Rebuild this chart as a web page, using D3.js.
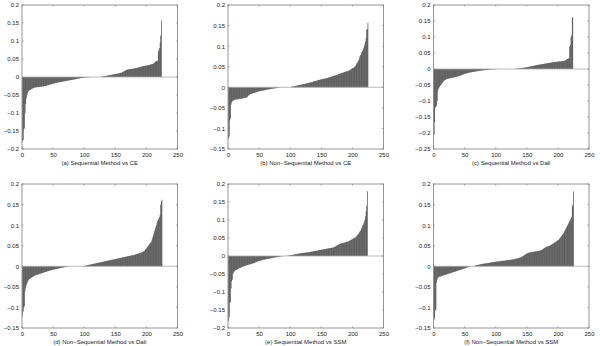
<!DOCTYPE html>
<html>
<head>
<meta charset="utf-8">
<script src="https://cdn.jsdelivr.net/npm/d3@7"></script>
<style>
  body { margin: 0; background: #fff; }
  text { font-family: "Liberation Sans", Arial, sans-serif; fill: #222; }
</style>
</head>
<body>
<div id="chart-area"></div>
<script>
// Data
// ****
const titles = [
  "(a) Sequential Method vs CE",
  "(b) Non\u2212Sequential Method vs CE",
  "(c) Sequential Method vs Dali",
  "(d) Non\u2212Sequential Method vs Dali",
  "(e) Sequential Method vs SSM",
  "(f) Non\u2212Sequential Method vs SSM"
]
const xTicks = [0, 50, 100, 150, 200, 250]
const yTicksA = [-0.2, -0.15, -0.1, -0.05, 0, 0.05, 0.1, 0.15, 0.2]
const yTicksB = [-0.15, -0.1, -0.05, 0, 0.05, 0.1, 0.15, 0.2]
const yTicksC = [-0.25, -0.2, -0.15, -0.1, -0.05, 0, 0.05, 0.1, 0.15, 0.2]
const yTicksD = [-0.15, -0.1, -0.05, 0, 0.05, 0.1, 0.15, 0.2]
const yTicksE = [-0.2, -0.15, -0.1, -0.05, 0, 0.05, 0.1, 0.15, 0.2]
const yTicksF = [-0.15, -0.1, -0.05, 0, 0.05, 0.1, 0.15, 0.2]

const seqCE = [
  -.180,-.175,-.145,-.143,-.100,-.075,-.060,-.050,-.045,-.040,
  -.038,-.037,-.036,-.035,-.034,-.033,-.032,-.031,-.030,-.030,
  -.029,-.029,-.029,-.028,-.028,-.028,-.028,-.028,-.027,-.027,
  -.027,-.027,-.026,-.026,-.026,-.025,-.025,-.025,-.024,-.024,
  -.023,-.023,-.022,-.022,-.021,-.021,-.020,-.020,-.019,-.019,
  -.018,-.018,-.017,-.017,-.016,-.016,-.016,-.015,-.015,-.015,
  -.014,-.014,-.014,-.013,-.013,-.013,-.012,-.012,-.012,-.011,
  -.011,-.011,-.010,-.010,-.010,-.009,-.009,-.009,-.008,-.008,
  -.008,-.007,-.007,-.007,-.006,-.006,-.006,-.005,-.005,-.005,
  -.004,-.004,-.004,-.003,-.003,-.003,-.003,-.002,-.002,-.002,
  -.002,-.001,-.001,-.001,-.001,-.001,-.0005,-.0005,-.0003,-.0002,
  0,0,0,0,0,0,0,0,0,0,
  0,0,0,0,0,0,.0003,.0006,.001,.0015,
  .002,.002,.0025,.003,.003,.0035,.004,.004,.0045,.005,
  .005,.0055,.006,.006,.0065,.007,.007,.0075,.008,.008,
  .0085,.009,.009,.0095,.010,.010,.011,.011,.012,.012,
  .013,.014,.015,.016,.017,.018,.019,.020,.020,.021,
  .021,.021,.022,.022,.022,.022,.023,.023,.023,.024,
  .024,.024,.025,.025,.025,.026,.026,.027,.027,.028,
  .028,.029,.029,.030,.030,.030,.031,.031,.031,.032,
  .032,.032,.033,.033,.034,.034,.035,.035,.036,.036,
  .037,.038,.040,.042,.043,.044,.045,.045,.070,.075,
  .080,.095,.115,.157
]
const nonSeqCE = [
  -.125,-.120,-.080,-.076,-.042,-.036,-.034,-.033,-.032,-.031,
  -.030,-.030,-.030,-.029,-.029,-.029,-.029,-.028,-.028,-.028,
  -.028,-.027,-.027,-.027,-.027,-.026,-.026,-.026,-.025,-.025,
  -.024,-.021,-.020,-.019,-.018,-.017,-.016,-.016,-.015,-.015,
  -.014,-.014,-.013,-.013,-.012,-.012,-.011,-.011,-.010,-.010,
  -.010,-.009,-.009,-.009,-.008,-.008,-.008,-.007,-.007,-.007,
  -.006,-.006,-.006,-.005,-.005,-.005,-.005,-.004,-.004,-.004,
  -.004,-.003,-.003,-.003,-.003,-.002,-.002,-.002,-.002,-.001,
  -.001,-.001,-.0005,-.0003,0,0,0,0,0,0,
  0,0,0,0,0,0,0,0,0,0,
  .0005,.001,.0015,.002,.002,.0025,.003,.003,.0035,.004,
  .004,.0045,.005,.005,.0055,.006,.006,.0065,.007,.007,
  .0075,.008,.008,.0085,.009,.009,.0095,.010,.010,.011,
  .011,.012,.012,.012,.013,.013,.014,.014,.015,.015,
  .015,.016,.016,.017,.017,.018,.018,.018,.019,.019,
  .020,.020,.020,.021,.021,.021,.022,.022,.022,.023,
  .023,.024,.024,.025,.025,.026,.026,.027,.027,.028,
  .028,.029,.029,.030,.030,.031,.031,.032,.033,.033,
  .034,.034,.035,.035,.036,.036,.037,.037,.038,.038,
  .039,.039,.040,.040,.041,.042,.043,.044,.045,.046,
  .047,.048,.049,.050,.052,.055,.058,.060,.063,.066,
  .070,.075,.078,.080,.085,.088,.090,.095,.100,.105,
  .112,.120,.140,.142,.157
]
const seqDali = [
  -.205,-.165,-.120,-.118,-.115,-.100,-.070,-.062,-.058,-.055,
  -.052,-.050,-.047,-.044,-.041,-.039,-.037,-.035,-.034,-.033,
  -.032,-.031,-.031,-.030,-.030,-.029,-.029,-.028,-.028,-.028,
  -.027,-.027,-.026,-.026,-.025,-.025,-.024,-.024,-.023,-.023,
  -.022,-.021,-.021,-.020,-.019,-.018,-.018,-.017,-.016,-.015,
  -.015,-.014,-.014,-.013,-.013,-.012,-.012,-.011,-.011,-.010,
  -.010,-.010,-.009,-.009,-.009,-.008,-.008,-.008,-.007,-.007,
  -.007,-.006,-.006,-.006,-.005,-.005,-.005,-.005,-.004,-.004,
  -.004,-.004,-.003,-.003,-.003,-.003,-.002,-.002,-.002,-.002,
  -.002,-.0015,-.0015,-.001,-.001,-.001,-.001,-.0008,-.0006,-.0005,
  -.0004,-.0003,-.0002,-.0001,0,0,0,0,0,0,
  0,0,0,0,0,0,0,0,0,0,
  0,0,0,0,0,0,0,0,0,.0002,
  .0004,.0006,.0008,.001,.0012,.0014,.0016,.0018,.002,.0023,
  .0026,.003,.0033,.0036,.004,.0043,.0046,.005,.0053,.0056,
  .006,.0064,.0068,.0072,.0076,.008,.0084,.0088,.009,.0095,
  .010,.0105,.011,.0114,.0118,.012,.0125,.013,.0133,.0136,
  .014,.0143,.0146,.015,.0153,.0156,.016,.0163,.0166,.017,
  .0173,.0176,.018,.0183,.0186,.019,.0193,.0196,.020,.0203,
  .0206,.021,.0213,.0216,.022,.0222,.0224,.0226,.0228,.023,
  .0232,.0234,.0236,.0238,.024,.0242,.0244,.0246,.0248,.025,
  .026,.028,.029,.030,.031,.032,.033,.034,.070,.075,
  .100,.105,.160,.162
]
const nonSeqDali = [
  -.122,-.110,-.100,-.097,-.060,-.052,-.047,-.042,-.038,-.035,
  -.033,-.031,-.030,-.029,-.028,-.027,-.026,-.025,-.024,-.023,
  -.022,-.022,-.021,-.021,-.020,-.020,-.019,-.019,-.018,-.018,
  -.017,-.017,-.016,-.016,-.015,-.015,-.014,-.014,-.013,-.013,
  -.012,-.012,-.011,-.011,-.010,-.010,-.010,-.009,-.009,-.008,
  -.008,-.008,-.007,-.007,-.007,-.006,-.006,-.006,-.005,-.005,
  -.005,-.004,-.004,-.004,-.003,-.003,-.003,-.002,-.002,-.002,
  -.0015,-.001,-.001,-.0007,-.0004,-.0002,0,0,0,0,
  0,0,0,0,0,0,0,0,0,0,
  0,0,0,0,0,0,.0002,.0004,.0006,.001,
  .0013,.0016,.002,.0023,.0026,.003,.0033,.0036,.004,.0043,
  .0046,.005,.0053,.0056,.006,.0063,.0066,.007,.0073,.0076,
  .008,.0083,.0086,.009,.0093,.0096,.010,.0103,.0106,.011,
  .0113,.0116,.012,.0123,.0126,.013,.0133,.0136,.014,.0143,
  .0146,.015,.0153,.0156,.016,.0163,.0166,.017,.0173,.0176,
  .018,.0183,.0186,.019,.0193,.0196,.020,.0203,.0206,.021,
  .0213,.0216,.022,.0223,.0226,.023,.0233,.0236,.024,.0243,
  .0246,.025,.0253,.0256,.026,.0263,.0266,.027,.0273,.0276,
  .028,.0285,.029,.0295,.030,.0305,.031,.0315,.032,.0325,
  .033,.0335,.034,.035,.036,.037,.038,.040,.042,.044,
  .046,.048,.050,.052,.054,.056,.058,.060,.065,.070,
  .075,.080,.085,.090,.095,.100,.105,.110,.113,.116,
  .120,.125,.150,.158,.162
]
const seqSSM = [
  -.180,-.170,-.130,-.128,-.090,-.070,-.066,-.050,-.046,-.043,
  -.041,-.040,-.039,-.038,-.037,-.036,-.035,-.034,-.033,-.033,
  -.032,-.031,-.030,-.030,-.029,-.028,-.028,-.027,-.026,-.026,
  -.025,-.025,-.024,-.024,-.023,-.023,-.022,-.022,-.021,-.021,
  -.020,-.019,-.019,-.018,-.017,-.016,-.016,-.015,-.014,-.014,
  -.013,-.013,-.012,-.012,-.011,-.011,-.010,-.010,-.010,-.009,
  -.009,-.009,-.008,-.008,-.008,-.007,-.007,-.007,-.006,-.006,
  -.006,-.005,-.005,-.005,-.004,-.004,-.004,-.003,-.003,-.003,
  -.002,-.002,-.002,-.0015,-.001,-.001,-.0005,-.0003,0,0,
  0,0,0,0,.0003,.0006,.001,.0013,.0016,.002,
  .0023,.0026,.003,.0033,.0036,.004,.0043,.0046,.005,.0053,
  .0056,.006,.0063,.0066,.007,.0073,.0076,.008,.0082,.0084,
  .0086,.0088,.009,.0092,.0094,.0096,.0098,.010,.0103,.0106,
  .011,.0113,.0116,.012,.0123,.0126,.013,.0133,.0136,.014,
  .0143,.0146,.015,.0153,.0156,.016,.0163,.0166,.017,.0173,
  .0176,.018,.0183,.0186,.019,.0193,.0196,.020,.0203,.0206,
  .021,.0213,.0216,.022,.0223,.0226,.023,.0233,.0236,.024,
  .025,.026,.027,.028,.029,.030,.031,.032,.033,.034,
  .034,.035,.035,.036,.036,.037,.037,.038,.038,.039,
  .039,.040,.040,.041,.042,.043,.044,.045,.046,.047,
  .048,.049,.050,.051,.052,.054,.056,.058,.060,.062,
  .065,.068,.070,.074,.078,.082,.086,.090,.095,.100,
  .110,.125,.140,.180
]
const nonSeqSSM = [
  -.130,-.125,-.108,-.105,-.040,-.032,-.028,-.027,-.026,-.025,
  -.025,-.024,-.024,-.023,-.023,-.022,-.022,-.021,-.021,-.020,
  -.020,-.019,-.019,-.018,-.018,-.017,-.017,-.016,-.016,-.015,
  -.015,-.014,-.014,-.013,-.013,-.012,-.012,-.011,-.011,-.010,
  -.010,-.009,-.009,-.008,-.008,-.007,-.007,-.006,-.006,-.005,
  -.005,-.004,-.004,-.003,-.002,-.0015,-.001,-.0005,0,0,
  0,0,0,0,.0005,.001,.0015,.002,.0025,.003,
  .0033,.0036,.004,.0043,.0046,.005,.0053,.0056,.006,.0062,
  .0064,.0066,.0068,.007,.0072,.0074,.0076,.0078,.008,.0083,
  .0086,.009,.0093,.0096,.010,.0102,.0104,.0106,.0108,.011,
  .0112,.0114,.0116,.0118,.012,.0122,.0124,.0126,.0128,.013,
  .0132,.0134,.0136,.0138,.014,.0142,.0144,.0146,.0148,.015,
  .0152,.0154,.0156,.0158,.016,.0163,.0166,.017,.0173,.0176,
  .018,.0183,.0186,.019,.0193,.0196,.020,.0205,.021,.0215,
  .022,.023,.024,.025,.026,.027,.028,.029,.030,.031,
  .032,.0325,.033,.0333,.0336,.034,.0343,.0346,.035,.0353,
  .0356,.0358,.036,.0362,.0364,.0366,.0368,.037,.0372,.0375,
  .038,.0385,.039,.040,.041,.042,.043,.044,.045,.046,
  .047,.0475,.048,.0485,.049,.0495,.050,.051,.052,.053,
  .054,.055,.056,.057,.058,.059,.060,.061,.062,.063,
  .064,.066,.068,.070,.072,.074,.076,.078,.080,.083,
  .086,.089,.092,.095,.098,.101,.104,.107,.110,.113,
  .116,.120,.145,.150,.182
]

// Config
// ******
const width = 600, height = 346
const panelW = 155.5, panelH = 144
const cols = [22, 228, 433.5]
const rows = [5, 184]
const tickLen = 1.6
const axisColor = "#7a7a7a"

const panels = [
  {values: seqCE, yTicks: yTicksA, title: titles[0]},
  {values: nonSeqCE, yTicks: yTicksB, title: titles[1]},
  {values: seqDali, yTicks: yTicksC, title: titles[2]},
  {values: nonSeqDali, yTicks: yTicksD, title: titles[3]},
  {values: seqSSM, yTicks: yTicksE, title: titles[4]},
  {values: nonSeqSSM, yTicks: yTicksF, title: titles[5]}
]

const svg = d3.select("#chart-area")
  .append("svg")
    .attr("width", width)
    .attr("height", height)

const fmt = d => (d < 0 ? "\u2212" : "") + String(+Math.abs(d).toFixed(2))

panels.forEach((p, i) => {
  const g = svg.append("g")
    .attr("transform", "translate(" + cols[i % 3] + "," + rows[Math.floor(i / 3)] + ")")

  const x = d3.scaleLinear().domain([0, 250]).range([0, panelW])
  const y = d3.scaleLinear().domain(d3.extent(p.yTicks)).range([panelH, 0])
  const barW = x(0.9) - x(0)

  // Bars
  g.selectAll("rect.bar").data(p.values).enter().append("rect")
    .attr("class", "bar")
    .attr("x", (d, k) => x(k + 1) - barW / 2)
    .attr("width", barW)
    .attr("y", d => Math.min(y(d), y(0)))
    .attr("height", d => Math.abs(y(d) - y(0)))
    .attr("fill", "#262626")

  // Baseline
  g.append("line")
    .attr("x1", x(0)).attr("x2", x(250))
    .attr("y1", y(0)).attr("y2", y(0))
    .attr("stroke", "#a8a8a8").attr("stroke-width", 0.8)

  // Axes (MATLAB style box with inward ticks)
  const xAxis = d3.axisBottom(x).tickValues(xTicks).tickSize(0).tickPadding(4)
  const yAxis = d3.axisLeft(y).tickValues(p.yTicks).tickSize(0).tickPadding(3).tickFormat(fmt)
  g.append("g").attr("transform", "translate(0," + panelH + ")").call(xAxis)
  g.append("g").call(yAxis)
  g.selectAll(".domain").remove()
  g.selectAll(".tick text").attr("font-size", "6px").attr("font-family", null).attr("fill", "#222")

  const ticks = g.append("g").attr("stroke", axisColor).attr("stroke-width", 0.6)
  xTicks.forEach(t => {
    ticks.append("line").attr("x1", x(t)).attr("x2", x(t)).attr("y1", panelH).attr("y2", panelH - tickLen)
    ticks.append("line").attr("x1", x(t)).attr("x2", x(t)).attr("y1", 0).attr("y2", tickLen)
  })
  p.yTicks.forEach(t => {
    ticks.append("line").attr("x1", 0).attr("x2", tickLen).attr("y1", y(t)).attr("y2", y(t))
    ticks.append("line").attr("x1", panelW).attr("x2", panelW - tickLen).attr("y1", y(t)).attr("y2", y(t))
  })

  g.append("rect")
    .attr("width", panelW).attr("height", panelH)
    .attr("fill", "none").attr("stroke", axisColor).attr("stroke-width", 0.8)

  // Title
  g.append("text")
    .attr("x", panelW / 2)
    .attr("y", panelH + 15.5)
    .attr("text-anchor", "middle")
    .attr("font-size", "6px")
    .text(p.title)
})
</script>
</body>
</html>
